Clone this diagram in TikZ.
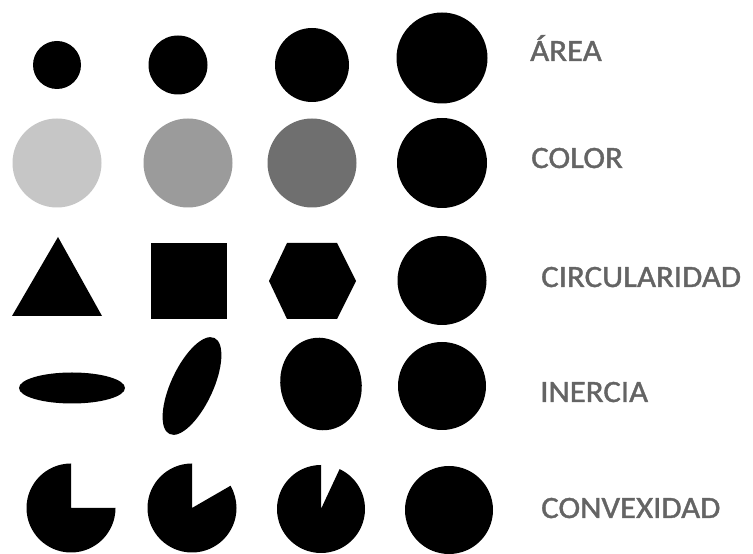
\documentclass[tikz,border=0pt]{standalone}
\usepackage{fontspec}
\setmainfont{Carlito}
\newfontfamily\lblfont[BoldFont=Carlito, BoldFeatures={FakeBold=1.2}]{Carlito}
\definecolor{lightg}{HTML}{C6C6C6}
\definecolor{midg}{HTML}{9B9B9B}
\definecolor{darkg}{HTML}{6F6F6F}
\definecolor{labelg}{HTML}{646464}
\tikzset{
  blob/.style={fill=black, draw=none},
  lbl/.style={anchor=base west, inner sep=0pt, text=labelg, font=\lblfont\bfseries\fontsize{31}{31}\selectfont, xscale=1.06}
}
\begin{document}
\begin{tikzpicture}[x=1pt,y=1pt]
\useasboundingbox[fill=white] (0,0) rectangle (753,554);
% Row 1: area
\fill[blob] (57,489) circle (24);
\fill[blob] (178,489) circle (29.5);
\fill[blob] (312,489) circle (37);
\fill[blob] (442,496) circle (45.5);
% Row 2: color
\fill[lightg] (57,391) circle (44.5);
\fill[midg] (188,391) circle (44.5);
\fill[darkg] (312,391) circle (44.5);
\fill[blob] (442,391) circle (45);
% Row 3: circularidad
\fill[blob] (58,317) -- (102,238) -- (12,238) -- cycle;
\fill[blob] (151,235) rectangle (227,311);
\fill[blob] (269,273) -- (287,311) -- (337,311) -- (356,273) -- (337,235) -- (287,235) -- cycle;
\fill[blob] (442,273.5) circle (44.5);
% Row 4: inercia
\fill[blob] (72,166) ellipse [x radius=53, y radius=15.5];
\fill[blob, rotate around={-25:(192,168)}] (192,168) ellipse [x radius=21, y radius=53];
\fill[blob, rotate around={12:(321,170)}] (321,170) ellipse [x radius=40.5, y radius=46.5];
\fill[blob] (442,168) circle (44);
% Row 5: convexidad
\fill[blob] (71,46) -- ++(90:44.5) arc[start angle=90, end angle=360, radius=44.5] -- cycle;
\fill[blob] (192,46) -- ++(90:44.5) arc[start angle=90, end angle=390, radius=44.5] -- cycle;
\fill[blob] (321,45) -- ++(90:44) arc[start angle=90, end angle=425, radius=44] -- cycle;
\fill[blob] (449,44) circle (44);
% Labels
\node[lbl] (area) at (530,493) {ÁREA};
\node[lbl] (color) at (531,386) {COLOR};
\node[lbl] (circ) at (541,267) {CIRCULARIDAD};
\node[lbl] (iner) at (540,152) {INERCIA};
\node[lbl] (conv) at (541,36) {CONVEXIDAD};
\end{tikzpicture}
\end{document}
